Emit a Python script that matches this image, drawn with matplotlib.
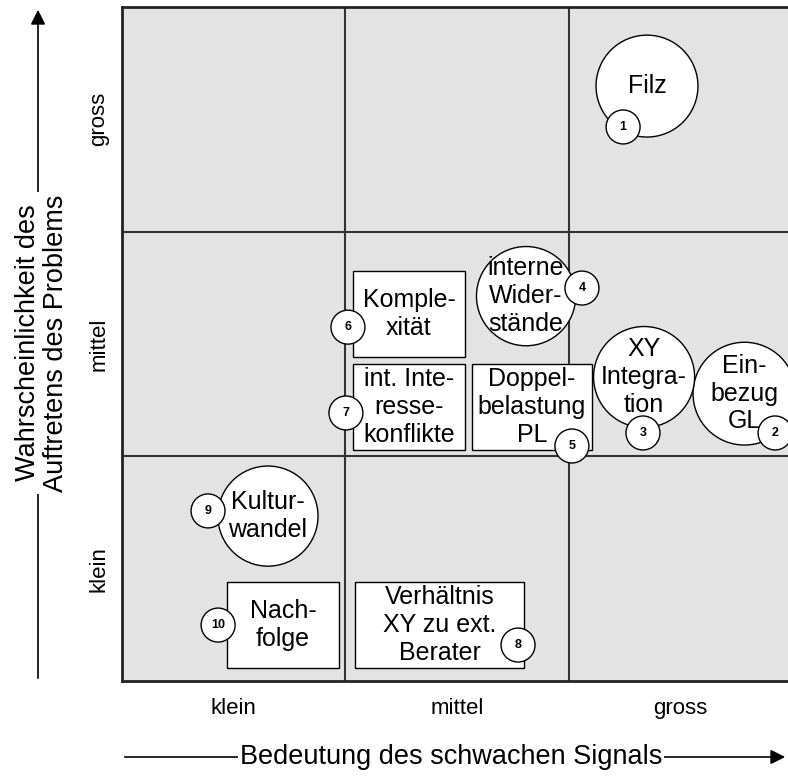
import matplotlib.pyplot as plt
from matplotlib.patches import Ellipse, Rectangle

plt.rcParams['font.family'] = ['Liberation Sans', 'DejaVu Sans']

# Bewertung: x = Bedeutung des Signals, y = Wahrscheinlichkeit (0..3, 3 Stufen)
levels = ['klein', 'mittel', 'gross']
nums = [1, 2, 3, 4, 5, 6, 7, 8, 9, 10]
labels = ['Filz', 'Ein-\nbezug\nGL', 'XY\nIntegra-\ntion', 'interne\nWider-\nstände',
          'Doppel-\nbelastung\nPL', 'Komple-\nxität', 'int. Inte-\nresse-\nkonflikte',
          'Verhältnis\nXY zu ext.\nBerater', 'Kultur-\nwandel', 'Nach-\nfolge']
x = [2.349, 2.785, 2.336, 1.808, 1.834, 1.284, 1.284, 1.421, 0.653, 0.720]
y = [2.648, 1.279, 1.353, 1.713, 1.219, 1.633, 1.219, 0.249, 0.734, 0.249]
kind = ['o', 'o', 'o', 'o', 's', 's', 's', 's', 'o', 's']
# Position der Nummern
nx = [2.242, 2.922, 2.331, 2.058, 2.013, 1.011, 1.002, 1.772, 0.385, 0.430]
ny = [2.466, 1.104, 1.104, 1.749, 1.046, 1.575, 1.193, 0.160, 0.757, 0.249]

# Groessen (Datenkoordinaten)
r_big = [0.228, 0.230, 0.226, 0.222, 0, 0, 0, 0, 0.224, 0]
w_box = [0, 0, 0, 0, 0.537, 0.501, 0.501, 0.756, 0, 0.501]
h_box = 0.383
r_num = 0.076
ky = 223.5 / 224.7  # Pixel-Verhaeltnis x/y

fig = plt.figure(figsize=(7.88, 7.77), dpi=100)
ax = fig.add_axes([122 / 788, 96 / 777, 670.5 / 788, 674 / 777])
ax.set_xlim(0, 3)
ax.set_ylim(0, 3)
ax.set_facecolor('#e3e3e3')
for s in ax.spines.values():
    s.set_linewidth(2)
    s.set_color('#222222')
for v in [1, 2]:
    ax.axvline(v, color='#333333', lw=1.5, zorder=1)
    ax.axhline(v, color='#333333', lw=1.5, zorder=1)

ax.set_xticks([0.5, 1.5, 2.5], levels, fontsize=16)
ax.set_yticks([0.5, 1.5, 2.5], levels, fontsize=16, rotation=90, va='center')
ax.tick_params(axis='x', length=0, pad=12)
ax.tick_params(axis='y', length=0, pad=9)

for i in range(len(nums)):
    if kind[i] == 'o':
        p = Ellipse((x[i], y[i]), 2 * r_big[i], 2 * r_big[i] * ky,
                    fc='white', ec='black', lw=1, zorder=3)
    else:
        p = Rectangle((x[i] - w_box[i] / 2, y[i] - h_box / 2), w_box[i], h_box,
                      fc='white', ec='black', lw=1, zorder=3)
    ax.add_patch(p)
    ax.text(x[i], y[i], labels[i], ha='center', va='center', fontsize=18,
            linespacing=1.2, zorder=4)

for i in range(len(nums)):
    ax.add_patch(Ellipse((nx[i], ny[i]), 2 * r_num, 2 * r_num * ky,
                         fc='white', ec='black', lw=1, zorder=5))
    ax.text(nx[i], ny[i], str(nums[i]), ha='center', va='center',
            fontsize=9, fontweight='bold', zorder=6)

# Achsenpfeile
ax.annotate('', xy=(788, 20), xytext=(122, 20), xycoords='figure pixels',
            arrowprops=dict(arrowstyle='-|>', color='black', lw=1.2, mutation_scale=22))
ax.annotate('', xy=(38, 770), xytext=(38, 96), xycoords='figure pixels',
            arrowprops=dict(arrowstyle='-|>', color='black', lw=1.2, mutation_scale=22))
fig.text(451 / 788, 20 / 777, 'Bedeutung des schwachen Signals', ha='center', va='center',
         fontsize=19.5, bbox=dict(fc='white', ec='none', pad=1))
fig.text(42 / 788, (777 - 343) / 777, 'Wahrscheinlichkeit des\nAuftretens des Problems',
         ha='center', va='center', rotation=90, fontsize=19.5, linespacing=1.1,
         bbox=dict(fc='white', ec='none', pad=2))

fig.savefig('out.png', dpi=100)
